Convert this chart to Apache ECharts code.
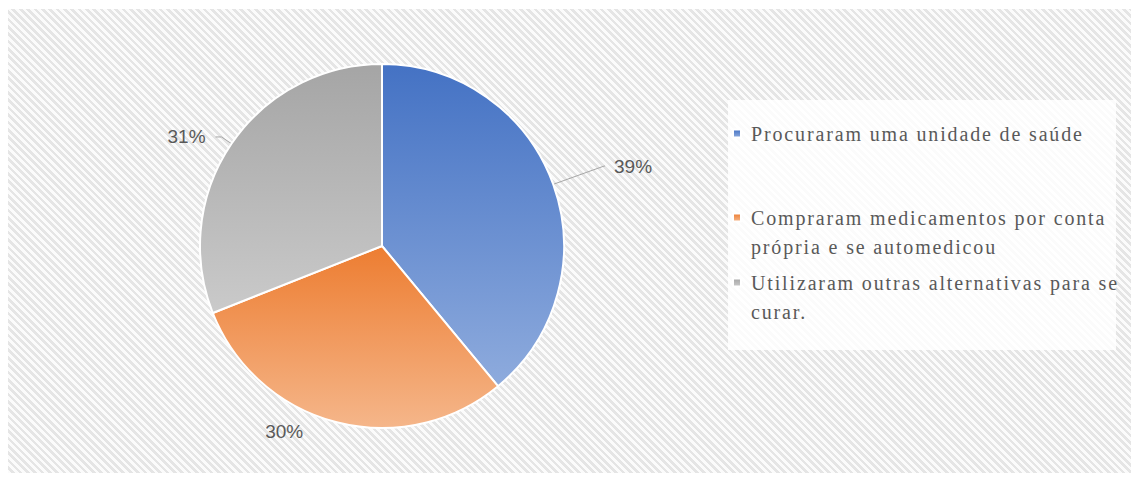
<!DOCTYPE html>
<html>
<head>
<meta charset="utf-8">
<script src="https://cdn.jsdelivr.net/npm/echarts@6/dist/echarts.min.js"></script>
<style>
  html, body { margin: 0; padding: 0; background: #fff; }
  #wrap { position: relative; width: 1131px; height: 477px; background: #fff; overflow: hidden; }
  /* diagonal hatched plot background */
  #hatch {
    position: absolute; left: 8px; top: 9px; right: 0; bottom: 4px;
    background: repeating-linear-gradient(45deg, #fbfbfb 0 2.6px, #e5e5e5 2.6px 5.2px);
  }
  #chart { position: absolute; left: 0; top: 0; width: 1131px; height: 477px; }
  /* loose tracking for the serif legend text */
  #chart text[style*="Serif"] { letter-spacing: 1.85px; }
</style>
</head>
<body>
<div id="wrap"><div id="hatch"></div><div id="chart"></div></div>
<script>
// Categories and their shares (%)
const categories = [
  'Procuraram uma unidade de saúde',
  'Compraram medicamentos por conta própria e se automedicou',
  'Utilizaram outras alternativas para se curar.'
];
// Legend wording split over lines
const legendLines = [
  ['Procuraram uma unidade de saúde'],
  ['Compraram medicamentos por conta', 'própria e se automedicou'],
  ['Utilizaram outras alternativas para se', 'curar.']
];
const values = [39, 30, 31];

// Slice gradient colours (top -> bottom)
const topColors = ['#4472c4', '#ed7d31', '#a5a5a5'];
const bottomColors = ['#8eabdd', '#f5b68a', '#cacaca'];

// Leader line geometry for each slice label
const labelStyle = [
  { length: 54, length2: 1, dist: 9, showLine: true },
  { length: 10, length2: 26, dist: 5, showLine: false },
  { length: 12, length2: 6, dist: 10, showLine: true }
];
// Vertical position of each legend entry
const legendTops = [119, 174, 239];

const chart = echarts.init(document.getElementById('chart'), null, { renderer: 'svg' });

const seriesData = categories.map((name, i) => ({
  name,
  value: values[i],
  itemStyle: {
    color: {
      type: 'linear', x: 0, y: 0, x2: 0, y2: 1,
      colorStops: [
        { offset: 0, color: topColors[i] },
        { offset: 1, color: bottomColors[i] }
      ]
    }
  },
  label: { distanceToLabelLine: labelStyle[i].dist },
  labelLine: {
    show: labelStyle[i].showLine,
    length: labelStyle[i].length,
    length2: labelStyle[i].length2
  }
}));

// A legend entry's text block is centred on its marker; a blank leading line
// keeps the marker level with the first line of two-line entries.
const legendText = lines => (lines.length > 1 ? '\n' : '') + lines.join('\n');

const legends = categories.map((name, i) => ({
  data: [name],
  left: 732,
  top: legendTops[i],
  orient: 'vertical',
  padding: 0,
  icon: 'rect',
  itemWidth: 8,
  itemHeight: 8,
  selectedMode: false,
  formatter: () => legendText(legendLines[i]),
  textStyle: {
    fontFamily: 'Liberation Serif',
    fontSize: 20,
    color: '#595959',
    lineHeight: 29,
    padding: [0, 0, 0, 5]
  }
}));

chart.setOption({
  animation: false,
  backgroundColor: 'transparent',
  graphic: [{
    type: 'rect',
    left: 728,
    top: 100,
    z: -10,
    shape: { width: 388, height: 250 },
    style: { fill: 'rgba(255,255,255,0.82)' },
    silent: true
  }],
  legend: legends,
  series: [{
    type: 'pie',
    center: [382, 246],
    radius: 182,
    startAngle: 90,
    clockwise: true,
    avoidLabelOverlap: false,
    emphasis: { disabled: true },
    itemStyle: { borderColor: '#ffffff', borderWidth: 2 },
    label: {
      show: true,
      position: 'outside',
      formatter: '{c}%',
      fontFamily: 'Liberation Sans',
      fontSize: 19,
      color: '#595959'
    },
    labelLine: {
      lineStyle: { color: '#a6a6a6', width: 1 }
    },
    data: seriesData
  }]
});
</script>
</body>
</html>
